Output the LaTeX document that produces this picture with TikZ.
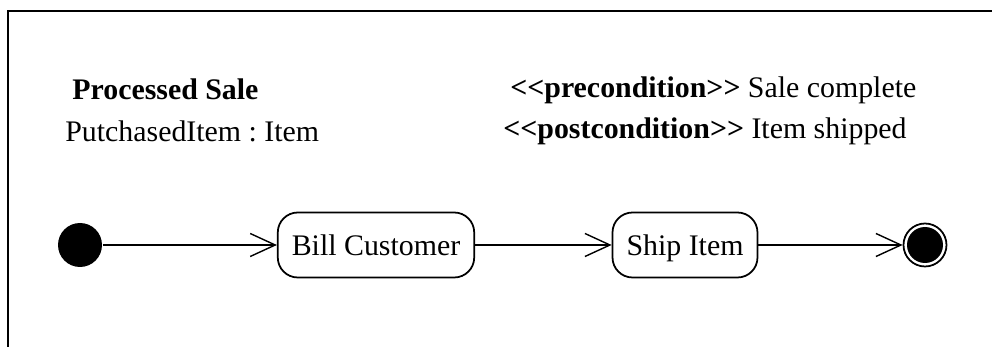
\documentclass[tikz,border=0pt]{standalone}
\usepackage{fontspec}
\setmainfont{Liberation Serif}
\usetikzlibrary{arrows.meta}
\frenchspacing

\begin{document}
\begin{tikzpicture}[x=0.02cm,y=-0.02cm]
	\useasboundingbox (0,0) rectangle (992,347);
	\draw[line width=1.1pt] (992,11) -- (8,11) -- (8,347);

	\begin{scope}[every node/.style={anchor=base west,inner sep=0pt,font=\fontsize{17}{20}\selectfont}]
	    \node (name) at (72,100) {\textbf{Processed Sale}};
	    \node (attr) at (65,142) {PutchasedItem : Item};
	    \node (pre) at (510,98) {\textbf{{<}{<}precondition{>}{>}} Sale complete};
	    \node (post) at (503,139) {\textbf{{<}{<}postcondition{>}{>}} Item shipped};
	\end{scope}

	\begin{scope}[every node/.style={line width=1pt,font=\fontsize{17}{20}\selectfont}]
	    \node (init) at (80,245) [circle,fill,inner sep=0pt,minimum size=0.88cm] {};
	    \node (bill) at (376,245) [draw,rounded corners=0.4cm,minimum height=1.3cm,inner xsep=0.28cm,
	        text height=14pt,text depth=2.6pt] {Bill Customer};
	    \node (ship) at (685,245) [draw,rounded corners=0.4cm,minimum height=1.3cm,inner xsep=0.28cm,
	        text height=14pt,text depth=2.6pt] {Ship Item};
	    \node (final) at (925,245) [circle,draw,inner sep=0pt,minimum size=0.86cm,
	        path picture={\fill (path picture bounding box.center) circle (0.36cm);}] {};
	\end{scope}

	\begin{scope}[>={Straight Barb[length=0.5cm,width=0.46cm]},
	              every edge/.style={draw=black,line width=0.8pt}]
	    \path [->] (init) edge (bill);
	    \path [->] (bill) edge (ship);
	    \path [->] (ship) edge (final);
	\end{scope}
\end{tikzpicture}
\end{document}
